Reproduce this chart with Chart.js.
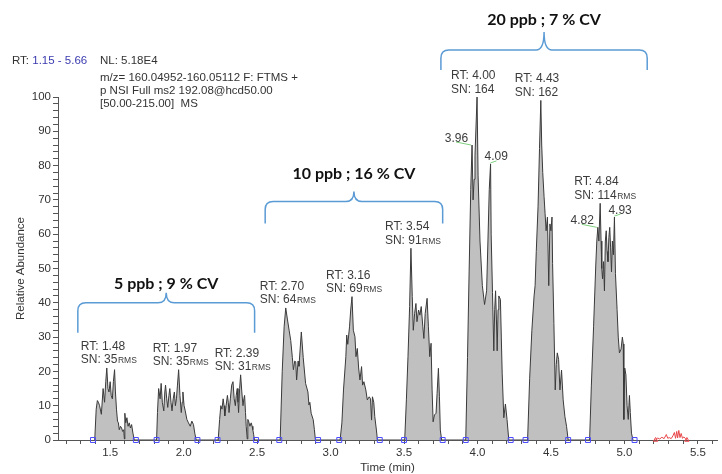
<!DOCTYPE html>
<html>
<head>
<meta charset="utf-8">
<script src="https://cdn.jsdelivr.net/npm/chart.js@4.4.0/dist/chart.umd.min.js"></script>
<style>
  html, body { margin: 0; padding: 0; background: #fff; }
  canvas { display: block; }
</style>
</head>
<body>
<canvas id="chromChart" width="722" height="474"></canvas>
<script>
// extracted ion chromatogram, one row per peak: time (min) / relative abundance (%)
var traceTime = [
  1.395,1.405,1.413,1.420,1.428,1.440,1.452,1.462,1.470,1.477,1.485,1.492,1.500,1.507,1.515,1.522,1.530,1.536,1.543,1.550,1.556,1.562,1.570,1.578,1.585,1.592,1.597,1.600,1.606,1.614,1.622,1.630,1.638,1.646,1.655,1.664,
  1.816,1.822,1.830,1.840,1.847,1.855,1.865,1.872,1.877,1.885,1.892,1.900,1.906,1.914,1.921,1.929,1.937,1.944,1.951,1.958,1.966,1.975,1.984,1.990,1.995,2.003,2.011,2.022,2.033,2.045,2.056,2.067,2.076,2.085,
  2.235,2.245,2.253,2.261,2.269,2.275,2.280,2.289,2.298,2.304,2.309,2.318,2.327,2.336,2.344,2.352,2.358,2.365,2.370,2.374,2.381,2.388,2.396,2.404,2.410,2.415,2.421,2.426,2.433,2.437,2.442,2.451,2.460,2.466,2.471,2.477,2.482,
  2.657,2.671,2.684,2.695,2.707,2.718,2.729,2.740,2.747,2.756,2.763,2.769,2.779,2.785,2.801,2.814,2.830,2.846,2.853,2.859,2.868,2.882,2.890,2.897,
  3.065,3.077,3.088,3.104,3.110,3.117,3.129,3.137,3.146,3.155,3.166,3.173,3.182,3.191,3.200,3.211,3.218,3.227,3.240,3.250,3.263,3.272,3.279,3.285,3.294,3.301,3.312,3.319,
  3.5045,3.516,3.527,3.538,3.547,3.556,3.563,3.572,3.581,3.588,3.599,3.608,3.617,3.628,3.635,3.644,3.657,3.666,3.675,3.684,3.691,3.698,3.707,3.718,3.725,3.734,3.741,3.747,3.756,
  3.920,3.932,3.943,3.954,3.963,3.970,3.977,3.983,3.997,4.004,4.017,4.033,4.048,4.062,4.071,4.080,4.089,4.093,4.102,4.111,4.117,4.123,4.129,4.134,4.140,4.145,4.156,4.162,4.168,4.179,4.190,4.201,4.213,
  4.341,4.355,4.370,4.385,4.392,4.400,4.412,4.422,4.431,4.437,4.444,4.453,4.460,4.467,4.476,4.485,4.493,4.500,4.507,4.511,4.520,4.529,4.536,4.543,4.552,4.561,4.572,4.583,4.595,4.606,4.617,
  4.763,4.775,4.790,4.805,4.812,4.819,4.826,4.835,4.841,4.846,4.851,4.858,4.864,4.870,4.876,4.882,4.888,4.894,4.900,4.906,4.912,4.918,4.925,4.932,4.939,4.950,4.958,4.966,4.977,4.986,4.992,4.996,5.002,5.010,5.018,5.026,5.034,5.040,5.048,5.058
];
var traceAbund = [
  0,9,11.5,11,10,7.5,15,11,17,21,15,14,17,13,12,17,20.5,14,9,5.5,5,3,4,3.5,2.5,3,0.3,7.8,5,6.5,4,5,3.5,4.5,2,0,
  0,8,15,12,16.5,11,8.5,14,16,12,9.5,13,15,11,8.5,12,14,10,12,16,20.5,13,8,11,14,10,8.5,6,5,4,5.5,4.5,2,0,
  0,6,10,9,12,10,7,10,13,11,8,12,16,17,12,10,13,15,11,8,15,19,14,10,12,13,8,4,0.3,6,5.5,4,5,4,3,1.5,0,
  0,20,33,38.5,35,32,29,24,20.5,23,22.8,17.5,23,21.5,31.5,24,16.5,14,10.2,11,7.8,5.9,3,0,
  0,5,14.6,24.3,30.6,27.9,33,37.9,41.8,32,30.1,24.3,26.7,21,17.5,21.4,16,17,14.6,11.7,12.6,12,5.8,12.6,11,6.8,2.9,0,
  0,11.7,24.3,38.9,55.9,41.8,32,36.9,39.8,34.5,37.9,36.4,38.9,33,29.6,36.9,41.3,33,24.3,28.2,14.6,5.3,7.3,7.8,13.6,20.9,12.6,2.9,0,
  0,24,49,73,86,70,76,83,100,77,58,45,39.5,43.5,58,73,80.5,60,43,26,38,43.5,35,26,38,42,41,30,19.5,6.5,10.5,6,0,
  0,18,32,42,45,55,68,85,99,86,78,71,66,61,65,45,63,61,65,51.5,34,14.6,22,25.4,23.5,14.6,20.4,11.7,6.8,4,0,
  0,16,33,51,58,62,58,69,58,50,47,52,43.5,58,61,55,52,59,62,56,49,58,54,65,48.5,38,30,25.4,26.5,30,28,6,21,19,10,6,13,8,2,0
];

// red noise trace after the last peak
var noiseTime = [5.212,5.225,5.240,5.255,5.270,5.285,5.295,5.305,5.318,5.330,5.340,5.348,5.356,5.362,5.370,5.378,5.386,5.395,5.405,5.415,5.425];
var noiseAbund = [0,0.6,0.3,0.8,0.4,1.6,0.5,0.7,0.4,1.2,2.2,0.5,2.5,0.6,2.8,0.7,1.9,0.5,0.9,0.4,0];

// integration start / end markers (blue squares)
var peakEdges = [1.383,1.675,1.816,2.094,2.231,2.493,2.651,2.915,3.059,3.335,3.500,3.763,3.920,4.226,4.327,4.617,4.752,5.069];

// peak annotations
var peakRT = [1.48, 1.97, 2.39, 2.70, 3.16, 3.54, 4.00, 4.43, 4.84];
var peakSN = ['35', '35', '31', '64', '69', '91', '164', '162', '114'];
var peakRMS = [true, true, true, true, true, true, false, false, true];
var shoulderRT = [3.96, 4.09, 4.82, 4.93];
var shoulderSide = ['left', 'right', 'left', 'right'];

// concentration groups
var groupLabels = ['5 ppb ; 9 % CV', '10 ppb ; 16 % CV', '20 ppb ; 7 % CV'];
var groupFrom = [1.28, 2.555, 3.751];
var groupTo = [2.483, 3.763, 5.155];

var xLabelStep = 0.5;
var yLabelStep = 10;

var SANS = '"Liberation Sans", Arial, sans-serif';
var HEAD = 'Lato, "Open Sans", sans-serif';

// bracket geometry (abundance units for the top line, pixels for the rest)
var bracketStyle = [
  { top: 40.0, drop: 30, tip: 10, gap: 19 },
  { top: 69.5, drop: 22, tip: 10, gap: 28 },
  { top: 113.7, drop: 20, tip: 18, gap: 30 }
];

function highestNear(rt, win) {
  var best = null;
  for (var i = 0; i < traceTime.length; i++) {
    if (Math.abs(traceTime[i] - rt) <= win && (!best || traceAbund[i] > best.y)) {
      best = { x: traceTime[i], y: traceAbund[i] };
    }
  }
  return best;
}

function nearest(rt) {
  var best = null, d = 1e9;
  for (var i = 0; i < traceTime.length; i++) {
    var dd = Math.abs(traceTime[i] - rt);
    if (dd < d) { d = dd; best = { x: traceTime[i], y: traceAbund[i] }; }
  }
  return best;
}

var annotations = {
  id: 'annotations',
  afterDraw: function (chart) {
    var c = chart.ctx, xs = chart.scales.x, ys = chart.scales.y;
    c.save();
    c.textBaseline = 'alphabetic';

    // header block
    c.font = '11.5px ' + SANS;
    c.fillStyle = '#333';
    c.textAlign = 'left';
    c.fillText('RT: ', 12, 64);
    var w0 = c.measureText('RT: ').width;
    c.fillStyle = '#3b3bb0';
    c.fillText('1.15 - 5.66', 12 + w0, 64);
    c.fillStyle = '#333';
    c.fillText('NL: 5.18E4', 100, 64);
    c.fillText('m/z= 160.04952-160.05112 F: FTMS +', 100, 81);
    c.fillText('p NSI Full ms2 192.08@hcd50.00', 100, 94);
    c.fillText('[50.00-215.00]  MS', 100, 107);

    // RT / SN labels above peaks
    peakRT.forEach(function (rt, i) {
      var p = highestNear(rt, 0.02);
      var px = xs.getPixelForValue(p.x), py = ys.getPixelForValue(p.y);
      var left = px - 26;
      c.fillStyle = '#3c3c3c';
      c.font = '12px ' + SANS;
      c.fillText('RT: ' + rt.toFixed(2), left, py - 18);
      var sn = 'SN: ' + peakSN[i];
      c.fillText(sn, left, py - 4.5);
      if (peakRMS[i]) {
        var w = c.measureText(sn).width;
        c.font = '8.5px ' + SANS;
        c.fillText('RMS', left + w + 0.5, py - 4.5);
      }
    });

    // shoulder labels with green leaders
    shoulderRT.forEach(function (rt, i) {
      var p = nearest(rt);
      var px = xs.getPixelForValue(p.x), py = ys.getPixelForValue(p.y);
      c.font = '12px ' + SANS;
      c.fillStyle = '#3c3c3c';
      c.strokeStyle = '#7fd07f';
      c.lineWidth = 1;
      c.beginPath();
      if (shoulderSide[i] === 'left') {
        c.textAlign = 'right';
        c.fillText(rt.toFixed(2), px - 4, py - 3.5);
        c.moveTo(px - 16, py - 3);
        c.lineTo(px - 1, py);
      } else {
        c.textAlign = 'left';
        c.fillText(rt.toFixed(2), px - 6, py - 3.5);
        c.moveTo(px, py - 1);
        c.lineTo(px + 6, py - 3);
      }
      c.stroke();
    });
    c.textAlign = 'left';

    // group brackets
    groupLabels.forEach(function (label, i) {
      var b = bracketStyle[i];
      var x0 = xs.getPixelForValue(groupFrom[i]);
      var x1 = xs.getPixelForValue(groupTo[i]);
      var xm = (x0 + x1) / 2;
      var yt = ys.getPixelForValue(b.top);
      var r = 8;
      c.strokeStyle = '#5b9bd5';
      c.lineWidth = 1.5;
      c.beginPath();
      c.moveTo(x0, yt + b.drop);
      c.lineTo(x0, yt + r);
      c.quadraticCurveTo(x0, yt, x0 + r, yt);
      c.lineTo(xm - r, yt);
      c.quadraticCurveTo(xm, yt, xm, yt - b.tip);
      c.quadraticCurveTo(xm, yt, xm + r, yt);
      c.lineTo(x1 - r, yt);
      c.quadraticCurveTo(x1, yt, x1, yt + r);
      c.lineTo(x1, yt + b.drop);
      c.stroke();

      c.font = 'bold 16px ' + HEAD;
      c.fillStyle = '#111';
      c.textAlign = 'center';
      c.textBaseline = 'middle';
      c.fillText(label, xm, yt - b.gap);
      c.textBaseline = 'alphabetic';
    });

    // axis titles
    var ca = chart.chartArea;
    c.fillStyle = '#333';
    c.font = '11.5px ' + SANS;
    c.textAlign = 'center';
    c.textBaseline = 'middle';
    c.fillText('Time (min)', (ca.left + ca.right) / 2, 468);
    c.translate(21, (ca.top + ca.bottom) / 2);
    c.rotate(-Math.PI / 2);
    c.fillText('Relative Abundance', 0, 0);
    c.restore();
  }
};

var trace = traceTime.map(function (t, i) { return { x: t, y: traceAbund[i] }; });
var noise = noiseTime.map(function (t, i) { return { x: t, y: noiseAbund[i] }; });
var edges = peakEdges.map(function (t) { return { x: t, y: 0 }; });

var ctx = document.getElementById('chromChart').getContext('2d');

new Chart(ctx, {
  type: 'scatter',
  data: {
    datasets: [
      {
        data: edges,
        showLine: false,
        pointStyle: 'rect',
        pointRadius: 3.5,
        borderColor: '#4b4bff',
        backgroundColor: 'rgba(255,255,255,0)',
        borderWidth: 1,
        clip: false,
        order: 0
      },
      {
        data: noise,
        showLine: true,
        borderColor: '#e8474a',
        borderWidth: 1,
        pointStyle: 'triangle',
        pointRadius: function (c) { return (c.dataIndex === 0 || c.dataIndex === noise.length - 1) ? 2.5 : 0; },
        pointBorderColor: '#e8474a',
        pointBackgroundColor: 'rgba(255,255,255,0)',
        fill: false,
        clip: false,
        order: 1
      },
      {
        data: trace,
        showLine: true,
        borderColor: '#3a3a3a',
        borderWidth: 1,
        backgroundColor: '#c0c0c0',
        pointRadius: 0,
        fill: 'origin',
        tension: 0,
        order: 2
      }
    ]
  },
  options: {
    responsive: false,
    animation: false,
    layout: { padding: { top: 97, right: 0, left: 0, bottom: 0 } },
    plugins: {
      legend: { display: false },
      tooltip: { enabled: false }
    },
    scales: {
      x: {
        type: 'linear',
        min: 1.145,
        max: 5.63,
        afterFit: function (s) { s.height = 34; },
        afterBuildTicks: function (s) {
          var t = [];
          for (var v = 12; v <= 56; v++) t.push({ value: v / 10 });
          s.ticks = t;
        },
        ticks: {
          autoSkip: false,
          maxRotation: 0,
          padding: 2,
          color: '#333',
          font: { family: SANS, size: 11.5 },
          callback: function (v) {
            return Math.abs(v / xLabelStep - Math.round(v / xLabelStep)) < 1e-6 ? v.toFixed(1) : '';
          }
        },
        grid: { drawOnChartArea: false, drawTicks: true, tickLength: 4, color: '#555' },
        border: { display: true, color: '#555', width: 1 }
      },
      y: {
        min: 0,
        max: 100,
        afterFit: function (s) { s.width = 58; },
        afterBuildTicks: function (s) {
          var t = [];
          for (var v = 0; v <= 100; v += 2) t.push({ value: v });
          s.ticks = t;
        },
        ticks: {
          autoSkip: false,
          padding: 2,
          color: '#333',
          font: { family: SANS, size: 11.5 },
          callback: function (v) { return v % yLabelStep === 0 ? String(v) : ''; }
        },
        grid: { drawOnChartArea: false, drawTicks: true, tickLength: 5, color: '#555' },
        border: { display: true, color: '#555', width: 1 }
      }
    }
  },
  plugins: [annotations]
});
</script>
</body>
</html>
